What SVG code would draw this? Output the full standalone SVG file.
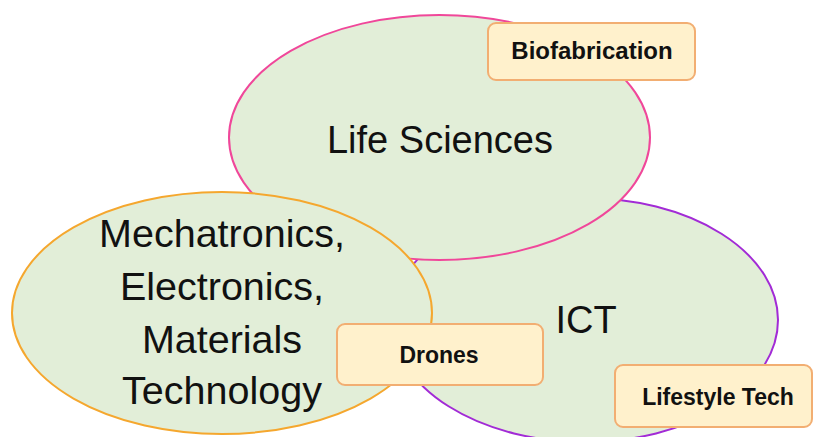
<svg xmlns="http://www.w3.org/2000/svg" width="814" height="437" viewBox="0 0 814 437">
<style>
.area{fill:#E2EED8;stroke-width:2}
.big{font-family:"Liberation Sans",Arial,sans-serif;font-size:38px;fill:#111;text-anchor:middle}
.mech{font-size:39.5px}
.box{fill:#FFF1CC;stroke:#F2AE72;stroke-width:2}
.tag{font-family:"Liberation Sans",Arial,sans-serif;font-size:23px;font-weight:bold;fill:#111;text-anchor:middle}
</style>
<rect width="814" height="437" fill="#fff"/>
<g id="ict">
<ellipse class="area" cx="585" cy="320" rx="193" ry="122" stroke="#A22BD6"/>
<text class="big" x="586" y="333">ICT</text>
</g>
<g id="life-sciences">
<ellipse class="area" cx="439.5" cy="137.5" rx="210.5" ry="122.5" stroke="#F0479A"/>
<text class="big" x="440" y="153">Life Sciences</text>
</g>
<g id="mechatronics">
<ellipse class="area" cx="222" cy="313" rx="210" ry="121" stroke="#F5A72E"/>
<text class="big mech" x="222" y="247">Mechatronics,</text>
<text class="big mech" x="222" y="300">Electronics,</text>
<text class="big mech" x="222" y="353">Materials</text>
<text class="big mech" x="222" y="404">Technology</text>
</g>
<g id="biofabrication">
<rect class="box" x="488" y="23" width="207" height="57" rx="8"/>
<text class="tag" x="592" y="59" style="font-size:24px">Biofabrication</text>
</g>
<g id="drones">
<rect class="box" x="337" y="324" width="206" height="61" rx="8"/>
<text class="tag" x="439" y="363">Drones</text>
</g>
<g id="lifestyle-tech">
<rect class="box" x="615" y="365" width="197" height="62" rx="8"/>
<text class="tag" x="718" y="405">Lifestyle Tech</text>
</g>
</svg>
